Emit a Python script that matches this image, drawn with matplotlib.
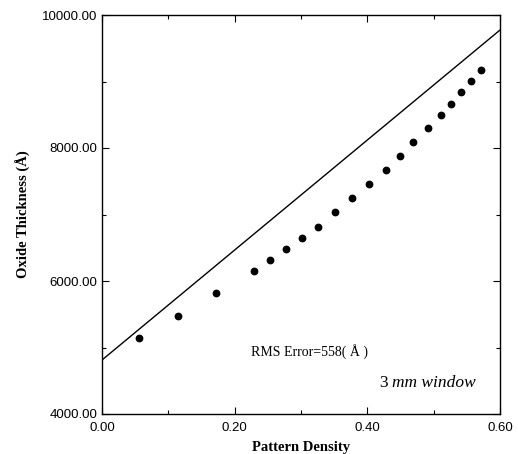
from matplotlib import pyplot as plt
from matplotlib.ticker import MultipleLocator, FormatStrFormatter
import numpy as np

#Measured data points
density=[0.056,0.115,0.172,0.229,0.253,0.277,0.301,0.325,0.351,0.377,0.402,0.428,0.449,0.469,0.491,0.511,0.526,0.541,0.557,0.571]
thickness=[5138,5474,5815,6150,6316,6481,6651,6817,7033,7244,7459,7669,7880,8086,8296,8496,8666,8842,9012,9173]

#Model line end points
model_x=[0.0,0.6]
model_y=[4812,9774]

fig=plt.figure(figsize=(5.18,4.54),dpi=100)
ax=fig.add_axes([102/518,40/454,398/518,399/454])

ax.plot(model_x,model_y,color='black',linewidth=1.0)
ax.plot(density,thickness,'o',color='black',markersize=4.6)

ax.set_xlim(0,0.6)
ax.set_ylim(4000,10000)
ax.xaxis.set_major_locator(MultipleLocator(0.2))
ax.xaxis.set_minor_locator(MultipleLocator(0.1))
ax.yaxis.set_major_locator(MultipleLocator(2000))
ax.yaxis.set_minor_locator(MultipleLocator(1000))
ax.xaxis.set_major_formatter(FormatStrFormatter('%.2f'))
ax.yaxis.set_major_formatter(FormatStrFormatter('%.2f'))
ax.tick_params(which='both',direction='in',top=True,right=True,width=0.8)
ax.tick_params(which='major',length=5)
ax.tick_params(which='minor',length=3)
ax.tick_params(axis='x',pad=6)
for lab in ax.get_xticklabels()+ax.get_yticklabels():
    lab.set_fontfamily('Liberation Sans')
    lab.set_fontsize(9.5)
for sp in ax.spines.values():
    sp.set_linewidth(1.0)

ax.set_xlabel('Pattern Density',family='Liberation Serif',fontweight='bold',fontsize=10.5,labelpad=5)
ax.set_ylabel('Oxide Thickness (Å)',family='Liberation Serif',fontweight='bold',fontsize=10.5,labelpad=8)

#Annotations
ax.text(0.2246,4932,'RMS Error=558( Å )',family='Liberation Serif',fontsize=10,va='center')
ax.text(0.419,4466,'3 ',family='Liberation Serif',fontsize=12.5,va='center')
ax.text(0.437,4466,'mm window',family='Liberation Serif',style='italic',fontsize=12.5,va='center')

plt.savefig('out.png',dpi=100)
